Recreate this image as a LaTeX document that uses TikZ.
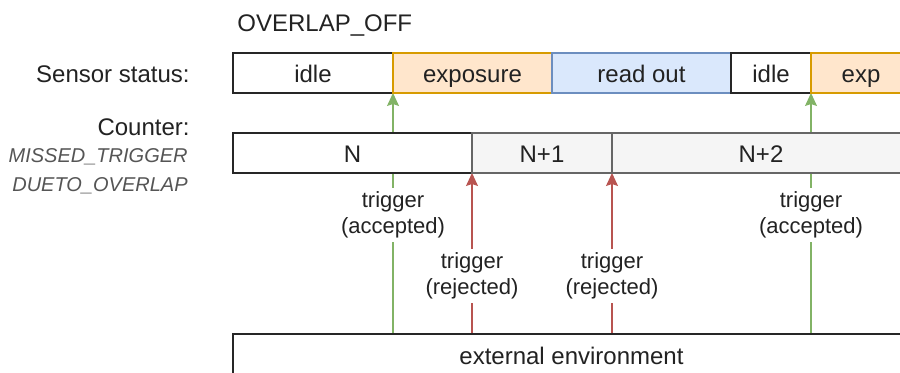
\documentclass[tikz,border=0pt]{standalone}
\usepackage{fontspec}
\setmainfont{Liberation Sans}
\usetikzlibrary{positioning,arrows.meta,backgrounds}

\definecolor{expfill}{HTML}{FFE6CC}
\definecolor{expline}{HTML}{D79B00}
\definecolor{readfill}{HTML}{DAE8FC}
\definecolor{readline}{HTML}{6C8EBF}
\definecolor{cntfill}{HTML}{F5F5F5}
\definecolor{cntline}{HTML}{666666}
\definecolor{okgreen}{HTML}{82B366}
\definecolor{nored}{HTML}{B85450}
\definecolor{notegray}{HTML}{555555}
\definecolor{txt}{HTML}{222222}

\begin{document}
\begin{tikzpicture}[x=0.5pt,y=-0.5pt,
  box/.style={draw=black!85, line width=0.75pt, fill=white, minimum height=20pt,
    text height=9.6pt, text depth=0.4pt,
    inner sep=0pt, outer sep=0pt, text=txt, font=\fontsize{12}{14}\selectfont},
  expbox/.style={draw=expline, fill=expfill},
  readbox/.style={draw=readline, fill=readfill},
  cntbox/.style={draw=cntline, fill=cntfill},
  lbl/.style={inner sep=0pt, text=txt, font=\fontsize{12}{14}\selectfont},
  note/.style={inner sep=0pt, text=notegray, font=\fontsize{10}{12}\selectfont\itshape},
  trig/.style={fill=white, inner sep=2pt, align=center, text=txt,
    font=\fontsize{11}{13}\selectfont},
  accept/.style={draw=okgreen, line width=0.6pt, -{Stealth[length=6.5pt,width=6pt,inset=1pt]}},
  reject/.style={draw=nored, line width=0.6pt, -{Stealth[length=6.5pt,width=6pt,inset=1pt]}}]
  \useasboundingbox (0,0) rectangle (900,373);
  \clip (0,0) rectangle (900,373);

  % title and row names
  \node[lbl, anchor=base west] (title) at (237,32) {OVERLAP\_OFF};
  \node[lbl, anchor=base east] (sensorname) at (190,83) {Sensor status:};
  \node[lbl, anchor=base east] (countername) at (190,136) {Counter:};
  \node[note, anchor=base east] (missname) at (188,163) {MISSED\_TRIGGER};
  \node[note, anchor=base east] (duename) at (188,192) {DUETO\_OVERLAP};

  % sensor status
  \node[box, minimum width=80pt, anchor=west] (idleA) at (233,73) {idle};
  \node[box, expbox, minimum width=79.5pt, right=0pt of idleA] (expoA) {exposure};
  \node[box, readbox, minimum width=89.5pt, right=0pt of expoA] (readA) {read out};
  \node[box, minimum width=40pt, right=0pt of readA] (idleB) {idle};
  \node[box, expbox, minimum width=50pt, right=0pt of idleB] (expoB) {exp};

  % counter
  \node[box, minimum width=119.5pt, anchor=west] (cntN) at (233,153) {N};
  \node[box, cntbox, minimum width=70pt, right=0pt of cntN] (cntA) {N+1};
  \node[box, cntbox, minimum width=149pt, right=0pt of cntA] (cntB) {N+2};

  \node[box, minimum width=338.5pt, minimum height=21pt, anchor=north west] (ext) at (233,334) {external environment};

  % triggers
  \begin{pgfonlayer}{background}
    \draw[accept] (ext.north -| idleA.south east) -- (idleA.south east)
      node[trig, pos=0.494] {trigger\\(accepted)};
    \draw[accept] (ext.north -| idleB.south east) -- (idleB.south east)
      node[trig, pos=0.494] {trigger\\(accepted)};
    \draw[reject] (ext.north -| cntN.south east) -- (cntN.south east)
      node[trig, pos=0.36] {trigger\\(rejected)};
    \draw[reject] (ext.north -| cntA.south east) -- (cntA.south east)
      node[trig, pos=0.36] {trigger\\(rejected)};
  \end{pgfonlayer}
\end{tikzpicture}
\end{document}
